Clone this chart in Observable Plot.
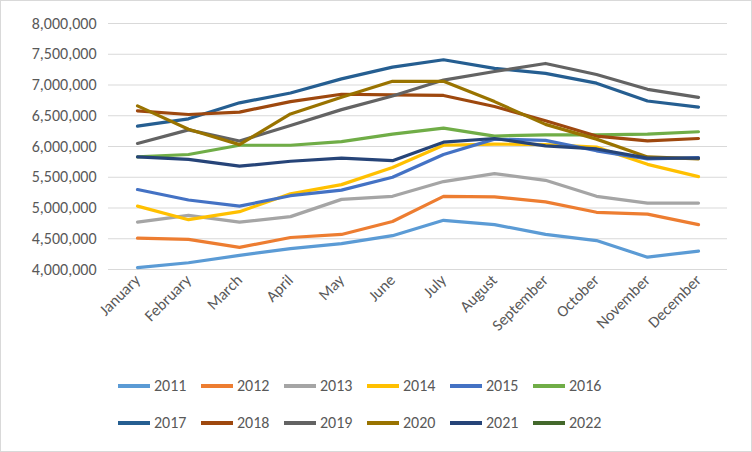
<!DOCTYPE html>
<html><head><meta charset="utf-8">
<script src="https://cdn.jsdelivr.net/npm/d3@7"></script>
<script src="https://cdn.jsdelivr.net/npm/@observablehq/plot@0.6"></script>
<style>
body{margin:0;background:#fff;font-family:Carlito,"Liberation Sans",Arial,sans-serif;}
#wrap{width:750px;height:450px;position:relative;border:1px solid #d9d9d9;}
#legend{display:flex;flex-wrap:wrap;width:500px;margin-left:117px;margin-top:21px;row-gap:18px;}
.it{width:83px;display:flex;align-items:center;font-size:16px;color:#595959;}
.sw{width:32px;height:4px;margin-right:4px;}
</style></head><body><div id="wrap"><div id="chart"></div><div id="legend"></div></div>
<script>
const months=["January","February","March","April","May","June","July","August","September","October","November","December"];
const years=["2011","2012","2013","2014","2015","2016","2017","2018","2019","2020","2021","2022"];
const colors=["#5B9BD5","#ED7D31","#A5A5A5","#FFC000","#4472C4","#70AD47","#255E91","#9E480E","#636363","#997300","#264478","#43682B"];
const v2011=[4.03,4.11,4.23,4.34,4.42,4.55,4.80,4.73,4.57,4.47,4.20,4.30];
const v2012=[4.51,4.49,4.36,4.52,4.57,4.78,5.19,5.18,5.10,4.93,4.90,4.73];
const v2013=[4.77,4.88,4.77,4.86,5.14,5.19,5.43,5.56,5.45,5.19,5.08,5.08];
const v2014=[5.03,4.81,4.94,5.23,5.38,5.66,6.02,6.04,6.03,5.99,5.71,5.51];
const v2015=[5.30,5.13,5.03,5.20,5.29,5.50,5.87,6.12,6.10,5.93,5.80,5.82];
const v2016=[5.83,5.87,6.02,6.02,6.08,6.20,6.30,6.17,6.19,6.19,6.20,6.24];
const v2017=[6.33,6.45,6.71,6.87,7.10,7.29,7.41,7.27,7.19,7.03,6.74,6.64];
const v2018=[6.58,6.52,6.56,6.73,6.85,6.84,6.83,6.65,6.42,6.17,6.09,6.13];
const v2019=[6.05,6.27,6.09,6.34,6.60,6.82,7.08,7.22,7.35,7.17,6.93,6.80];
const v2020=[6.66,6.28,6.03,6.53,6.80,7.06,7.06,6.73,6.36,6.12,5.83,5.80];
const v2021=[5.83,5.79,5.68,5.76,5.81,5.77,6.07,6.13,6.01,5.96,5.81,5.81];
const v2022=[];
const series=[v2011,v2012,v2013,v2014,v2015,v2016,v2017,v2018,v2019,v2020,v2021,v2022];
const yTicks=[4e6,4.5e6,5e6,5.5e6,6e6,6.5e6,7e6,7.5e6,8e6];
const data=[];
series.forEach((s,i)=>s.forEach((v,j)=>data.push({year:years[i],month:months[j],value:v*1e6})));
const fmt=d3.format(",");
const chart=Plot.plot({
  width:750,height:354,marginLeft:107,marginRight:24,marginTop:22,marginBottom:86,
  style:{fontFamily:"Carlito,'Liberation Sans',Arial,sans-serif",fontSize:"16px",color:"#595959"},
  x:{type:"point",domain:months,padding:0.5},
  y:{domain:[4e6,8e6]},
  color:{domain:years,range:colors},
  marks:[
    Plot.ruleY(yTicks,{stroke:"#d9d9d9",strokeWidth:1.2}),
    Plot.axisY({ticks:yTicks,tickFormat:fmt,tickSize:0,tickPadding:12,label:null,fontSize:16,fill:"#595959"}),
    Plot.axisX({tickRotate:-45,tickSize:0,tickPadding:8,label:null,fontSize:16,fill:"#595959"}),
    Plot.line(data,{x:"month",y:"value",z:"year",stroke:"year",strokeWidth:3.2,strokeLinejoin:"round"})
  ]
});
document.getElementById("chart").append(chart);
const lg=document.getElementById("legend");
years.forEach((y,i)=>{const d=document.createElement("div");d.className="it";d.innerHTML=`<span class="sw" style="background:${colors[i]}"></span>${y}`;lg.append(d);});
</script></body></html>
